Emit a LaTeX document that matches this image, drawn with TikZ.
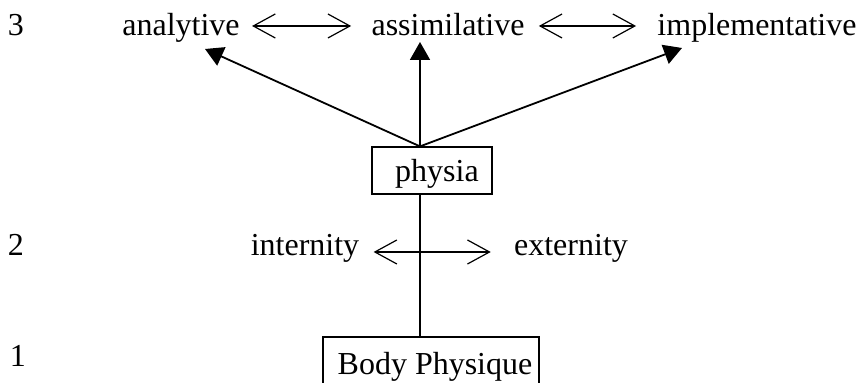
\documentclass[tikz,border=0pt]{standalone}
\usepackage{fontspec}
\setmainfont{Liberation Serif}
\usetikzlibrary{arrows.meta, calc}

\begin{document}
\begin{tikzpicture}[x=0.5pt, y=-0.5pt, font=\fontsize{16}{18}\selectfont,
    word/.style={inner sep=0pt, anchor=base},
    box/.style={draw, line width=0.6pt, inner sep=0pt},
    link/.style={line width=0.9pt, -{Triangle[length=9pt, width=10pt]}},
    both/.style={line width=0.6pt, {Straight Barb[length=11pt, width=12pt]}-{Straight Barb[length=11pt, width=12pt]}}]
    \useasboundingbox (0,0) rectangle (861,383);

    % level numbers
    \node[word] (lvl3) at (16,36) {3};
    \node[word] (lvl2) at (16,256) {2};
    \node[word] (lvl1) at (18,367) {1};

    % level 3
    \node[word] (ana) at (181,36) {analytive};
    \node[word] (assim) at (448,36) {assimilative};
    \node[word] (impl) at (757,36) {implementative};

    % level 2
    \node[word] (intern) at (305,256) {internity};
    \node[word] (extern) at (571,256) {externity};

    % boxes
    \node[box, minimum width=60pt, minimum height=23.5pt, text depth=0pt] (physia) at (432,170.5) {\hspace{5pt}physia};
    \node[box, minimum width=108pt, minimum height=30pt] (body) at (431,367) {\hspace{4pt}Body Physique};

    \coordinate (stem) at (420,0);
    \coordinate (anatip) at (205,49);
    \coordinate (assimtip) at (420,42);
    \coordinate (impltip) at (682,48);

    \draw[link] (physia.north -| stem) -- (anatip);
    \draw[link] (physia.north -| stem) -- (assimtip);
    \draw[link] (physia.north -| stem) -- (impltip);
    \draw[line width=0.9pt] (physia.south -| stem) -- (body.north -| stem);

    \draw[both] ($(ana.base east)+(12,-10)$) -- ($(assim.base west)+(-20,-10)$);
    \draw[both] ($(assim.base east)+(14,-10)$) -- ($(impl.base west)+(-21,-10)$);
    \draw[both] ($(intern.base east)+(14,-4)$) -- ($(extern.base west)+(-23,-4)$);
\end{tikzpicture}
\end{document}
